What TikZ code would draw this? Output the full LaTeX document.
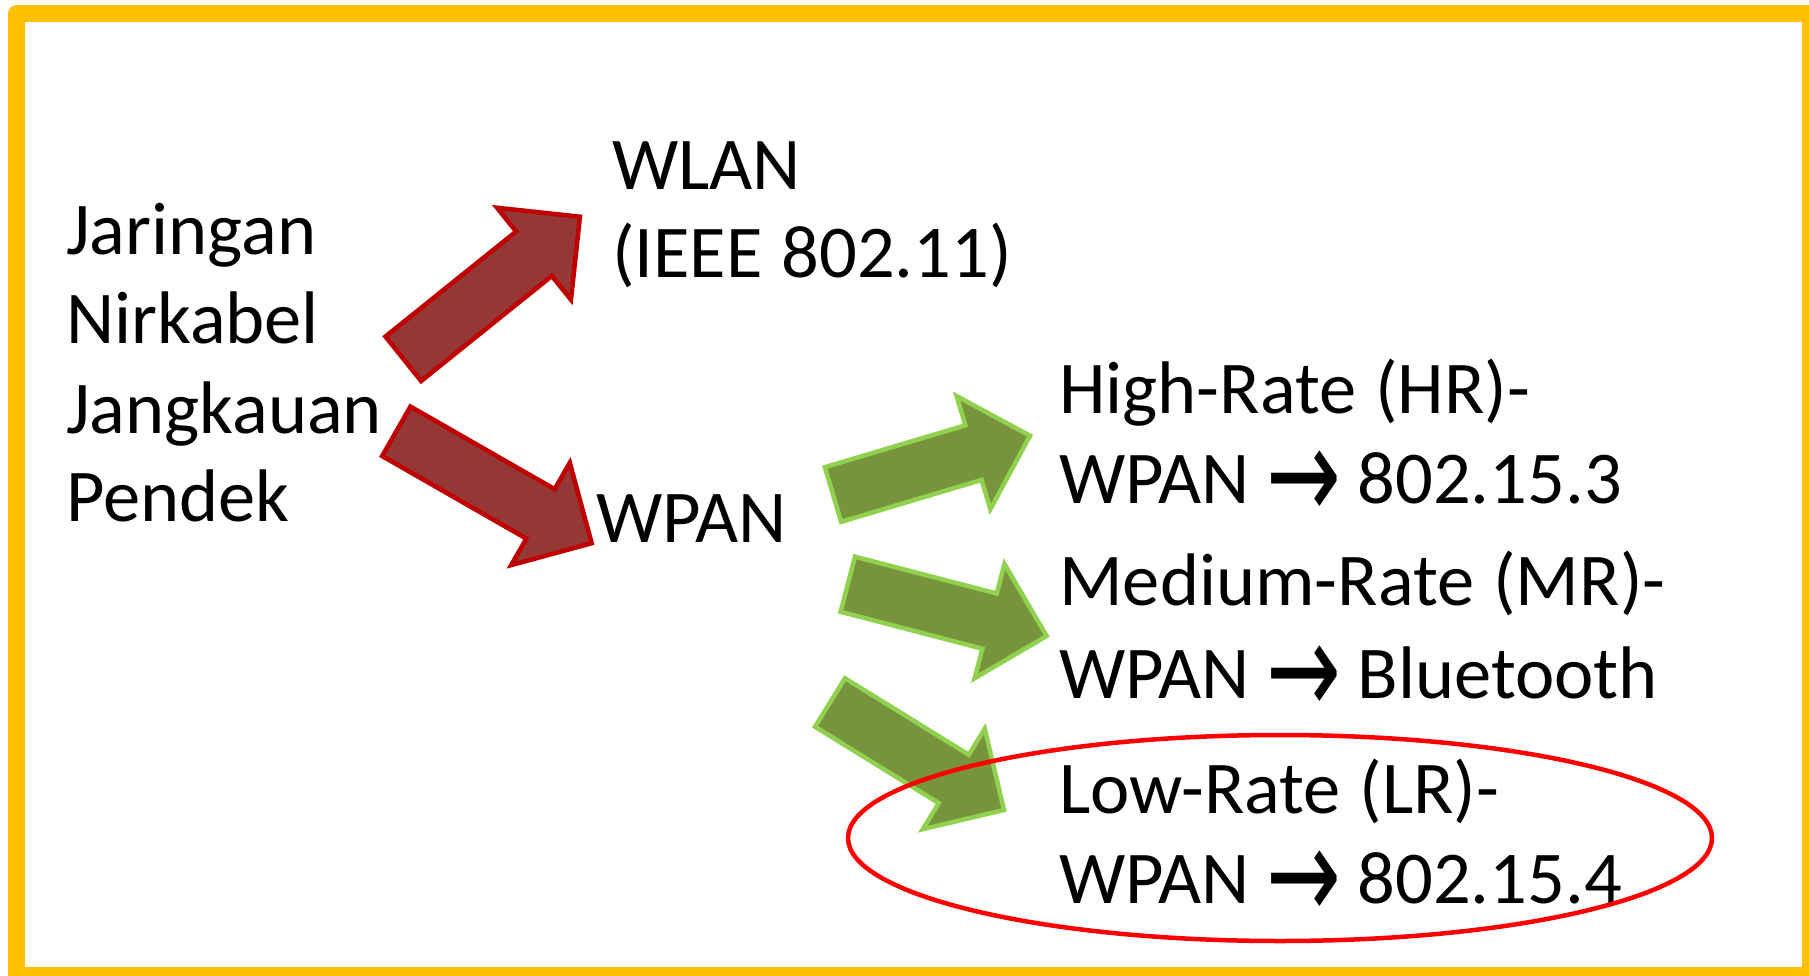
\documentclass[tikz,border=0pt]{standalone}
\usepackage{fontspec}
\usepackage{graphicx}
\setmainfont{Carlito}
\newfontfamily\arrowfont{DejaVu Sans}
\usetikzlibrary{calc}

\definecolor{frameyellow}{HTML}{FFC000}
\definecolor{wirered}{HTML}{953735}
\definecolor{wireredline}{HTML}{C00000}
\definecolor{wpangreen}{HTML}{77933C}
\definecolor{wpangreenline}{HTML}{92D050}

\newcommand{\arr}{\makebox[70pt][c]{\raisebox{-16pt}{\scalebox{1.2}[1.75]{\arrowfont →}}}}
% block arrow: style, tail centre, angle, length
\newcommand{\blockarrow}[4]{%
	\begin{scope}[shift={#2},rotate=#3]
		\draw[#1] (0,-28.5) -- ({#4-59},-28.5) -- ({#4-59},-59) -- (#4,0)
			-- ({#4-59},59) -- ({#4-59},28.5) -- (0,28.5) -- cycle;
	\end{scope}}

\begin{document}
\begin{tikzpicture}[x=1pt,y=-1pt,
		redarrow/.style={fill=wirered,draw=wireredline,line width=4.5pt},
		greenarrow/.style={fill=wpangreen,draw=wpangreenline,line width=4.5pt},
		itemtext/.style={inner sep=0pt,anchor=base west,align=left,text width=720pt,
			font=\fontsize{74.5}{90}\selectfont,
			execute at begin node={\spaceskip=19pt\relax}}]
		\useasboundingbox (0,0) rectangle (1809,976);
		\clip (0,0) rectangle (1809,976);
		\fill[white] (0,0) rectangle (1809,976);
		\draw[frameyellow,line width=17pt,line join=round] (16.5,14) rectangle (1810.5,975.5);

		\blockarrow{redarrow}{(403.3,358.8)}{38.8}{226.7}
		\blockarrow{redarrow}{(396.3,431.3)}{-29.8}{225.2}
		\blockarrow{greenarrow}{(833,494.5)}{16.6}{205.6}
		\blockarrow{greenarrow}{(847.8,584.2)}{-14.6}{205.5}
		\blockarrow{greenarrow}{(830,702.5)}{-31.7}{204.5}

		\node[itemtext,font=\fontsize{74.5}{89}\selectfont] (wireless) at (66,255) {Jaringan\\Nirkabel\\Jangkauan\\Pendek};
		\node[itemtext,font=\fontsize{74.5}{88}\selectfont] (wlan) at (612,190) {WLAN\\(IEEE 802.11)};
		\node[itemtext] (wpan) at (596,542) {WPAN};

		\node[itemtext] (hrwpan) at (1059,413) {High-Rate (HR)-\\WPAN \arr{} 802.15.3};
		\node[itemtext,font=\fontsize{74.5}{93}\selectfont] (mrwpan) at (1059,605) {Medium-Rate (MR)-\\WPAN \arr{} Bluetooth};
		\node[itemtext] (lrwpan) at (1059,813) {Low-Rate (LR)-\\WPAN \arr{} 802.15.4};

		\draw[red,line width=4.5pt] (1280,838) ellipse [x radius=432,y radius=103];
	\end{tikzpicture}
\end{document}
